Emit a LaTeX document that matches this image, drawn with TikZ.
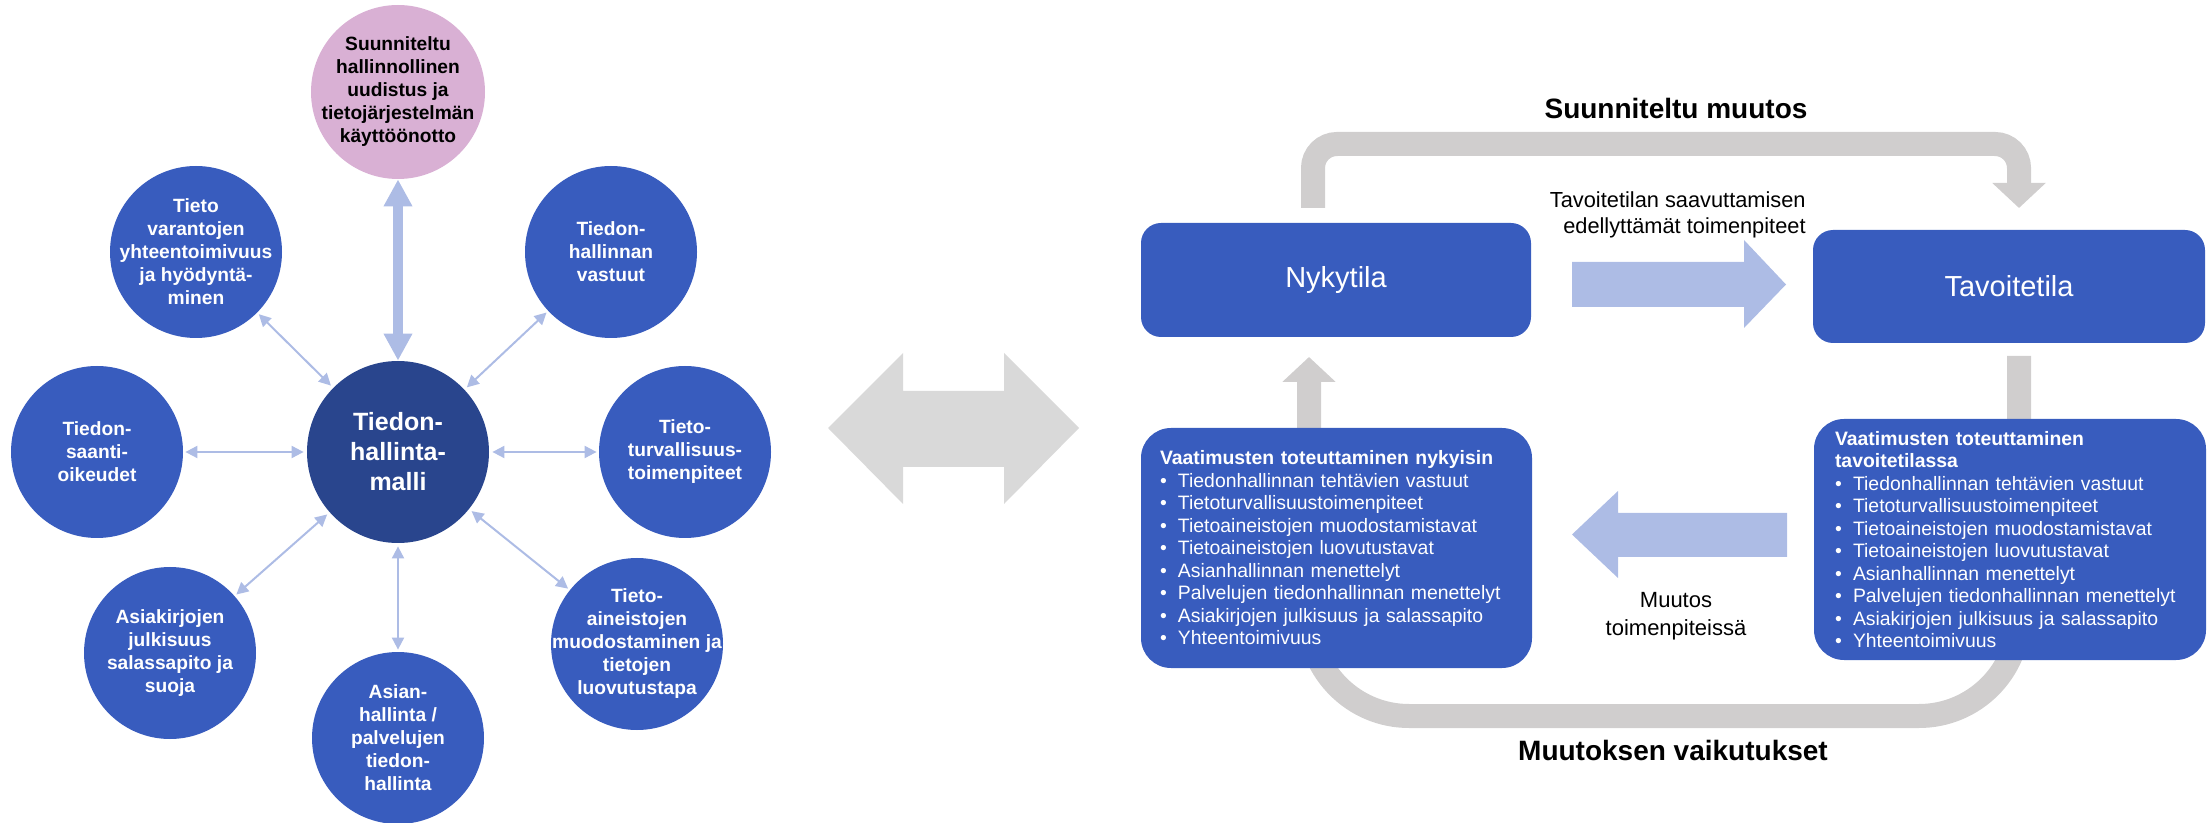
\documentclass[tikz,border=0pt]{standalone}
\usepackage{fontspec}
\setmainfont{Liberation Sans}
\usetikzlibrary{arrows.meta}

\definecolor{tsininen}{RGB}{56,92,190}
\definecolor{tumma}{RGB}{41,69,141}
\definecolor{roosa}{RGB}{217,176,212}
\definecolor{vaalea}{RGB}{173,188,229}
\definecolor{harmaa}{RGB}{208,206,206}
\definecolor{vharmaa}{RGB}{217,217,217}

\newcommand{\kohta}[1]{\makebox[9pt][l]{\textbullet}#1}
\newcommand{\kohdat}{%
  \kohta{Tiedonhallinnan tehtävien vastuut}\\
  \kohta{Tietoturvallisuustoimenpiteet}\\
  \kohta{Tietoaineistojen muodostamistavat}\\
  \kohta{Tietoaineistojen luovutustavat}\\
  \kohta{Asianhallinnan menettelyt}\\
  \kohta{Palvelujen tiedonhallinnan menettelyt}\\
  \kohta{Asiakirjojen julkisuus ja salassapito}\\
  \kohta{Yhteentoimivuus}}

\begin{document}
\begin{tikzpicture}[x=0.5pt,y=-0.5pt,
    pallo/.style={shape=circle,fill=tsininen,minimum size=86pt,inner sep=0pt,
      label={[pallotxt]center:#1}},
    pallotxt/.style={text=white,align=center,inner sep=0pt,
      font=\bfseries\fontsize{9.6}{11.5}\selectfont},
    ohut/.style={draw=vaalea,line width=1pt,shorten <=1pt,shorten >=1.5pt,
      {Triangle[length=6pt,width=6pt]}-{Triangle[length=6pt,width=6pt]}},
    paksu/.style={draw=vaalea,line width=5pt,
      {Triangle[length=13.5pt,width=13.5pt]}-{Triangle[length=13.5pt,width=13.5pt]}},
    kaari/.style={draw=harmaa,line width=12pt,-{Triangle[length=12.5pt,width=26pt]}},
    laatikko/.style={fill=tsininen,text=white,rounded corners=10pt,
      font=\fontsize{14.5}{17}\selectfont},
    lista/.style={fill=tsininen,text=white,rounded corners=15pt,align=left,
      inner ysep=0pt,font=\fontsize{9.7}{11.25}\selectfont},
    otsikko/.style={font=\bfseries\fontsize{14}{16}\selectfont}]
\useasboundingbox (0,0) rectangle (2207,823);

% left: the model and its parts
\node[pallo={Tieto\\varantojen\\yhteentoimivuus\\ja hyödyntä-\\minen}] (varannot) at (196,252) {};
\node[pallo={Tiedon-\\hallinnan\\vastuut}] (vastuut) at (611,252) {};
\node[pallo={Tiedon-\\saanti-\\oikeudet}] (saanti) at (97,452) {};
\node[pallo={Tieto-\\turvallisuus-\\toimenpiteet}] (turva) at (685,452) {};
\node[pallo={Asiakirjojen\\julkisuus\\salassapito ja\\suoja}] (julkisuus) at (170,653) {};
\node[pallo={Asian-\\hallinta /\\palvelujen\\tiedon-\\hallinta}] (asianhallinta) at (398,738) {};
\node[pallo={Tieto-\\aineistojen\\muodostaminen ja\\tietojen\\luovutustapa}] (aineistot) at (637,644) {};
\node[shape=circle,fill=roosa,minimum size=87pt,inner sep=0pt,
  label={[pallotxt,text=black]center:Suunniteltu\\hallinnollinen\\uudistus ja\\tietojärjestelmän\\käyttöönotto}] (uudistus) at (398,92) {};
\node[shape=circle,fill=tumma,minimum size=91pt,inner sep=0pt,text=white,align=center,
  font=\bfseries\fontsize{12.5}{15}\selectfont] (malli) at (398,452) {Tiedon-\\hallinta-\\malli};

\draw[paksu] (uudistus) -- (malli);
\draw[ohut] (varannot) -- (malli);
\draw[ohut] (vastuut) -- (malli);
\draw[ohut] (saanti) -- (malli);
\draw[ohut] (turva) -- (malli);
\draw[ohut] (julkisuus) -- (malli);
\draw[ohut] (asianhallinta) -- (malli);
\draw[ohut] (aineistot) -- (malli);

% middle
\fill[vharmaa] (828,428) -- (903,353) -- (903,391) -- (1004,391) -- (1004,353) -- (1079,428)
  -- (1004,504) -- (1004,467) -- (903,467) -- (903,504) -- cycle;

% right: change loop
\coordinate (ylavasen) at (1313,208);
\coordinate (ylaoikea) at (2019,208);
\coordinate (alaoikea) at (2019,356);
\coordinate (alavasen) at (1309,357);
\draw[kaari,rounded corners=12pt] (ylavasen) -- ++(0,-64) -| (ylaoikea);
\draw[kaari,rounded corners=50pt] (alaoikea) -- (2019,716) -| (alavasen);

\node[laatikko,minimum width=195pt,minimum height=57pt] (nykytila) at (1336,280) {Nykytila};
\node[laatikko,minimum width=196pt,minimum height=56.5pt] (tavoitetila) at (2009,286.5) {Tavoitetila};

\node[lista,minimum width=195.5pt,minimum height=120pt,text width=176.5pt,inner xsep=9.5pt]
  (nykyisin) at (1336.5,548)
  {\textbf{Vaatimusten toteuttaminen nykyisin}\\\kohdat};
\node[lista,minimum width=196pt,minimum height=120.5pt,text width=175pt,inner xsep=10.5pt]
  (tavoitteessa) at (2010,539.5)
  {\textbf{Vaatimusten toteuttaminen}\\\textbf{tavoitetilassa}\\\kohdat};

\fill[vaalea] (1572,262) -- (1744,262) -- (1744,240) -- (1786,284.5) -- (1744,328)
  -- (1744,307) -- (1572,307) -- cycle;
\fill[vaalea] (1787,513) -- (1618,513) -- (1618,491) -- (1572,534.5) -- (1618,578)
  -- (1618,557) -- (1787,557) -- cycle;

\node[otsikko] (suunniteltu) at (1676,108) {Suunniteltu muutos};
\node[otsikko] (vaikutukset) at (1673,750) {Muutoksen vaikutukset};
\node[font=\fontsize{10.9}{13.3}\selectfont,align=right,anchor=east,inner sep=0pt]
  (edellytys) at (1806,215) {Tavoitetilan saavuttamisen\\edellyttämät toimenpiteet};
\node[font=\fontsize{11}{14}\selectfont,align=center,inner sep=0pt]
  (muutos) at (1676,616) {Muutos\\toimenpiteissä};
\end{tikzpicture}
\end{document}
